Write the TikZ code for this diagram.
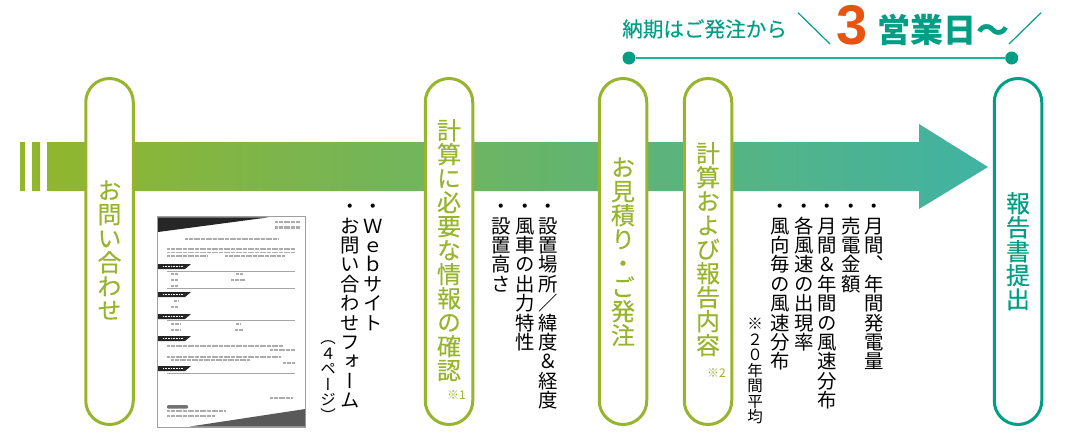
\documentclass[tikz,border=0pt]{standalone}
\usepackage{fontspec}
\setmainfont{Noto Sans CJK JP}
\newfontfamily\vjp[RawFeature=+vert]{Noto Sans CJK JP}
\newfontfamily\vjpmid[RawFeature=+vert,FakeBold=0.2]{Noto Sans CJK JP}
\newfontfamily\jpmid[FakeBold=0.3]{Noto Sans CJK JP}
\newfontfamily\numfont{Liberation Sans}

\definecolor{leaf}{HTML}{97B52C}
\definecolor{teal}{HTML}{009F85}
\definecolor{tealline}{HTML}{1FB295}
\definecolor{arrowstart}{HTML}{93B62B}
\definecolor{arrowend}{HTML}{40B3A3}
\definecolor{orng}{HTML}{E8540F}

% one character per line
\makeatletter
\newcommand{\tate}[2][\vjp]{\edef\tatelist{#2}\vbox{\offinterlineskip#1%
    \expandafter\@tfor\expandafter\tatech\expandafter:\expandafter=\tatelist\do{%
        \hbox to 1em{\hss\vrule height .88em depth .12em width 0pt\smash{\tatech}\hss}}}}
\makeatother

\tikzset{
    pill/.style={draw=#1, fill=white, line width=3pt, minimum width=47.5pt, minimum height=346pt, rounded corners=23.75pt, inner sep=0pt},
    pilltext/.style={text=#1, anchor=north, inner sep=0pt, font=\fontsize{24}{24}\selectfont},
    listitem/.style={text=black, anchor=north, inner sep=0pt, font=\fontsize{19.4}{19.4}\selectfont},
    smallitem/.style={text=black, anchor=north, inner sep=0pt, font=\fontsize{15.5}{15.5}\selectfont},
    note/.style={text=leaf, anchor=west, inner sep=0pt, font=\fontsize{12}{12}\selectfont},
    smudge/.style={line width=#1, dash pattern=on 1pt off 0.4pt on 0.5pt off 0.5pt, gray!65},
    rulegray/.style={line width=0.6pt, gray!70},
}

\begin{document}
\begin{tikzpicture}[x=1pt, y=-1pt]
    \useasboundingbox (0,0) rectangle (1080,440);

    % arrow with the three bars at its tail
    \shade[left color=arrowstart, right color=arrowend]
        (20,142) rectangle (25,191)
        (32,142) rectangle (40,191)
        (47,142) -- (919,142) -- (919,124) -- (988,167) -- (919,209) -- (919,191) -- (47,191) -- cycle;

    % stages
    \node[pill=leaf] (ask) at (109.5,251.5) {};
    \node[pill=leaf] (info) at (449,251.5) {};
    \node[pill=leaf] (order) at (623,251.5) {};
    \node[pill=leaf] (calc) at (708,251.5) {};
    \node[pill=teal] (report) at (1018,251.5) {};

    \node[pilltext=leaf] (asktext) at (109.5,178) {\tate[\vjpmid]{お問い合わせ}};
    \node[pilltext=leaf] (infotext) at (449,118) {\tate[\vjpmid]{計算に必要な情報の確認}};
    \node[pilltext=leaf] (ordertext) at (623,155) {\tate[\vjpmid]{お見積り・ご発注}};
    \node[pilltext=leaf] (calctext) at (708,141) {\tate[\vjpmid]{計算および報告内容}};
    \node[pilltext=teal] (reporttext) at (1018,191) {\tate[\vjpmid]{報告書提出}};
    \node[note] (noteone) at (447,395) {※1};
    \node[note] (notetwo) at (707,373) {※2};

    % lists beside the stages
    \foreach \n/\xpos/\txt in {
        a/372.7/・Ｗｅｂサイト,
        b/350/・お問い合わせフォーム,
        c/548/・設置場所／緯度＆経度,
        d/525/・風車の出力特性,
        e/501/・設置高さ,
        f/874/・月間、年間発電量,
        g/850.7/・売電金額,
        h/827/・月間＆年間の風速分布,
        i/804/・各風速の出現率,
        j/780/・風向毎の風速分布
    } {
        \node[listitem] (item\n) at (\xpos,196.5) {\tate{\txt}};
    }
    \node[smallitem] (pages) at (328,330) {\tate{（４ページ）}};
    \node[smallitem] (average) at (755,316) {\tate{※２０年間平均}};

    % lead time
    \node[text=teal, inner sep=0pt, anchor=west, font=\jpmid\fontsize{20.6}{20.6}\selectfont] (leadtext) at (622,29) {納期はご発注から};
    \node[text=orng, inner sep=0pt, anchor=center, font=\numfont\bfseries\fontsize{56}{56}\selectfont] (three) at (852,25.5) {3};
    \node[text=teal, inner sep=0pt, anchor=west, font=\bfseries\fontsize{33}{33}\selectfont] (days) at (877,30) {営業日～};
    \coordinate (slashatop) at (798,12.7);
    \coordinate (slashabot) at (830,44);
    \coordinate (slashbbot) at (1009,44);
    \coordinate (slashbtop) at (1041,12.7);
    \draw[teal, line width=1.2pt] (slashatop) -- (slashabot);
    \draw[teal, line width=1.2pt] (slashbbot) -- (slashbtop);
    \node[circle, fill=teal, inner sep=0pt, minimum size=13pt] (startdot) at (629,58) {};
    \node[circle, fill=teal, inner sep=0pt, minimum size=13pt] (enddot) at (1011.7,58) {};
    \draw[tealline, line width=1.6pt] (startdot) -- (enddot);

    % form thumbnail
    \draw[gray!75, fill=white, line width=1pt] (157.5,216.8) rectangle (305.7,427);
    \fill[black!85] (158,217.3) -- (269,217.3) -- (158,232) -- cycle;
    \fill[black!65] (190,426.5) -- (305.2,426.5) -- (305.2,409) -- cycle;
    \draw[smudge=2pt] (275,222) -- (300,222);
    \draw[smudge=3pt] (275,227) -- (300,227);
    \draw[smudge=2.6pt] (185,239) -- (278,239);
    \foreach \yline/\xa/\xb in {249/167/295, 252.5/167/295, 256/167/207, 256/225/285,
        274/171/178, 274/236/243, 280/171/178, 280/231/245, 286/171/178,
        301/174/178, 307/171/178, 324/171/180, 324/236/240, 330/171/180, 330/235/243,
        346/167/283, 350/270/295, 357/167/280, 360/171/250, 363/283/295,
        398/270/293, 411/167/225, 416/167/215} {
        \draw[smudge=1.3pt] (\xa,\yline) -- (\xb,\yline);
    }
    \foreach \ytab in {269,297,319,341,371} {
        \fill[black!85] (158,\ytab-5) -- (191,\ytab-5) -- (185,\ytab) -- (158,\ytab) -- cycle;
        \draw[white, line width=1pt, dash pattern=on 1pt off 0.6pt] (163,\ytab-2.5) -- (183,\ytab-2.5);
    }
    \foreach \yrule in {271,288.3,320.7,373} {
        \draw[rulegray] (167,\yrule) -- (295,\yrule);
    }
    \fill[black!55, rounded corners=1pt] (167,405) rectangle (188,408.5);
\end{tikzpicture}
\end{document}
